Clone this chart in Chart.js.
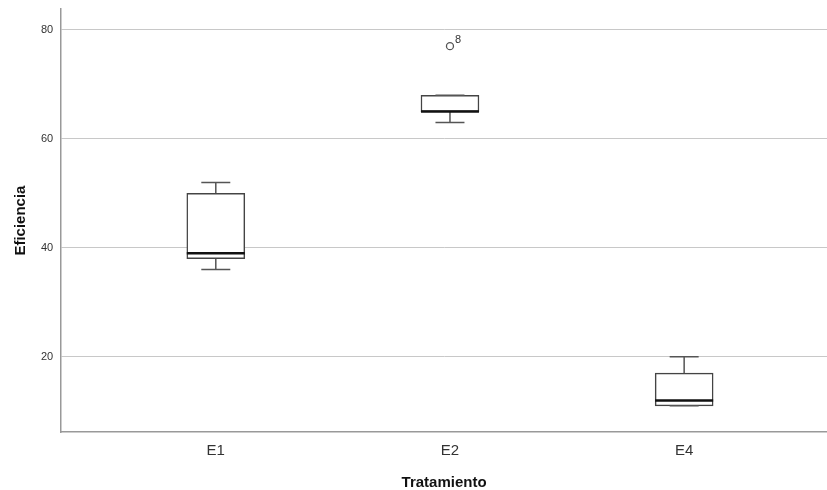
<!DOCTYPE html>
<html>
<head>
<meta charset="utf-8">
<script src="https://cdn.jsdelivr.net/npm/chart.js@4"></script>
<style>
  html, body { margin: 0; padding: 0; background: #fff; }
  #wrap { width: 827px; height: 490px; }
</style>
</head>
<body>
<div id="wrap"><canvas id="boxChart"></canvas></div>
<script>
// Tratamientos y estadisticos del boxplot
const categories = ['E1', 'E2', 'E4'];
const whiskerLow = [36, 63, 11];
const q1 = [38, 65, 11];
const medians = [39, 65, 12];
const q3 = [50, 68, 17];
const whiskerHigh = [52, 68, 20];
const outliers = [{ cat: 2, value: 77, label: '8' }];
const yTicks = [20, 40, 60, 80];

const boxData = categories.map((c, i) => ({ x: i + 1, y: [q1[i], q3[i]] }));
const outlierData = outliers.map(o => ({ x: o.cat, y: o.value }));

const sans = '"Liberation Sans", Arial, sans-serif';

// whiskers, medians and outlier labels drawn on top of the boxes
const boxPlotExtras = {
    id: 'boxPlotExtras',
    afterDatasetsDraw(chart) {
        const ctx = chart.ctx;
        const xs = chart.scales.x;
        const ys = chart.scales.y;
        ctx.save();
        categories.forEach((c, i) => {
            const x = xs.getPixelForValue(i + 1);
            const cap = 14.5;
            ctx.strokeStyle = '#555';
            ctx.lineWidth = 1.5;
            ctx.beginPath();
            // upper whisker
            ctx.moveTo(x, ys.getPixelForValue(q3[i]));
            ctx.lineTo(x, ys.getPixelForValue(whiskerHigh[i]));
            ctx.moveTo(x - cap, ys.getPixelForValue(whiskerHigh[i]));
            ctx.lineTo(x + cap, ys.getPixelForValue(whiskerHigh[i]));
            // lower whisker
            ctx.moveTo(x, ys.getPixelForValue(q1[i]));
            ctx.lineTo(x, ys.getPixelForValue(whiskerLow[i]));
            ctx.moveTo(x - cap, ys.getPixelForValue(whiskerLow[i]));
            ctx.lineTo(x + cap, ys.getPixelForValue(whiskerLow[i]));
            ctx.stroke();
            // median
            ctx.strokeStyle = '#111';
            ctx.lineWidth = 2.5;
            ctx.beginPath();
            ctx.moveTo(x - 29, ys.getPixelForValue(medians[i]));
            ctx.lineTo(x + 29, ys.getPixelForValue(medians[i]));
            ctx.stroke();
        });
        ctx.fillStyle = '#333';
        ctx.font = '11px ' + sans;
        ctx.textAlign = 'left';
        ctx.textBaseline = 'bottom';
        outliers.forEach(o => {
            ctx.fillText(o.label, xs.getPixelForValue(o.cat) + 5, ys.getPixelForValue(o.value) - 1);
        });
        ctx.restore();
    }
};

const ctx = document.getElementById('boxChart').getContext('2d');
const boxChart = new Chart(ctx, {
    type: 'bar',
    data: {
        datasets: [{
            label: 'Eficiencia',
            data: boxData,
            backgroundColor: '#ffffff',
            borderColor: '#444',
            borderWidth: 1.5,
            borderSkipped: false,
            barThickness: 58,
            grouped: false
        }, {
            type: 'scatter',
            label: 'Atipicos',
            data: outlierData,
            pointRadius: 3.5,
            pointBackgroundColor: '#ffffff',
            pointBorderColor: '#555',
            pointBorderWidth: 1.3
        }]
    },
    options: {
        responsive: true,
        maintainAspectRatio: false,
        animation: false,
        layout: { autoPadding: false, padding: { left: 11, right: 0, top: 8, bottom: 0 } },
        plugins: {
            legend: { display: false },
            tooltip: { enabled: false }
        },
        scales: {
            x: {
                type: 'linear',
                offset: false,
                min: 0.34,
                max: 3.61,
                afterBuildTicks: (axis) => { axis.ticks = categories.map((c, i) => ({ value: i + 1 })); },
                ticks: {
                    callback: (v) => categories[v - 1],
                    color: '#333',
                    font: { family: sans, size: 15 },
                    padding: 10
                },
                grid: { display: false, drawTicks: false },
                border: { display: true, color: '#999', width: 1.5 },
                title: {
                    display: true,
                    text: 'Tratamiento',
                    color: '#111',
                    font: { family: sans, size: 15, weight: 'bold', lineHeight: 1 },
                    padding: { top: 5, bottom: 0 }
                }
            },
            y: {
                min: 6.2,
                max: 83.8,
                afterBuildTicks: (axis) => { axis.ticks = yTicks.map(v => ({ value: v })); },
                ticks: {
                    color: '#333',
                    font: { family: sans, size: 11, lineHeight: 0.2 },
                    padding: 8
                },
                grid: { color: '#c8c8c8', lineWidth: 1, drawTicks: false },
                border: { display: true, color: '#999', width: 1.5 },
                title: {
                    display: true,
                    text: 'Eficiencia',
                    color: '#111',
                    font: { family: sans, size: 15, weight: 'bold', lineHeight: 1 },
                    padding: { top: 2, bottom: 5 }
                }
            }
        }
    },
    plugins: [boxPlotExtras]
});
</script>
</body>
</html>
